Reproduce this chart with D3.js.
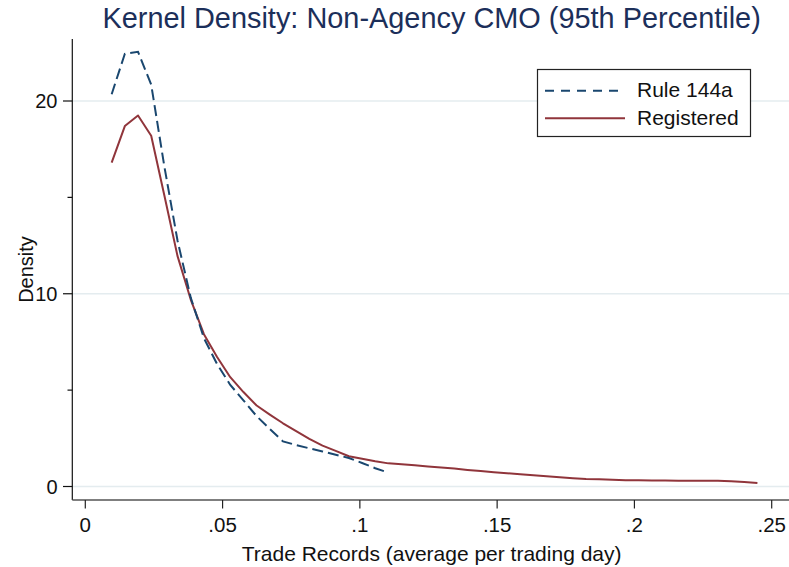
<!DOCTYPE html>
<html>
<head>
<meta charset="utf-8">
<script src="https://cdn.jsdelivr.net/npm/d3@7"></script>
<style>
  html, body { margin: 0; padding: 0; background: #ffffff; }
  svg { display: block; font-family: "Liberation Sans", Arial, sans-serif; }
</style>
</head>
<body>
<svg id="chart" width="789" height="567"></svg>
<script>
// Evaluation points of the kernel density (average trade records per trading day)
const evalPoints = [
  0.0096, 0.0144, 0.0192, 0.0240, 0.0288, 0.0336, 0.0384, 0.0432, 0.0480, 0.0528,
  0.0576, 0.0624, 0.0672, 0.0720, 0.0768, 0.0816, 0.0864, 0.0912, 0.0960, 0.1008,
  0.1056, 0.1104, 0.1152, 0.1200, 0.1248, 0.1296, 0.1344, 0.1392, 0.1440, 0.1488,
  0.1536, 0.1584, 0.1632, 0.1680, 0.1728, 0.1776, 0.1824, 0.1872, 0.1920, 0.1968,
  0.2016, 0.2064, 0.2112, 0.2160, 0.2208, 0.2256, 0.2304, 0.2352, 0.2400, 0.2448
];

// Density estimates, Rule 144a issues (evaluated up to .11)
const rule144a = [
  20.35, 22.45, 22.55, 20.85, 16.6, 12.75, 9.8, 7.7, 6.35, 5.27,
  4.47, 3.65, 2.98, 2.34, 2.15, 1.98, 1.82, 1.65, 1.48, 1.22,
  0.95, 0.72
];

// Density estimates, registered issues
const registered = [
  16.8, 18.7, 19.25, 18.2, 15.1, 11.95, 9.7, 7.9, 6.72, 5.67,
  4.9, 4.2, 3.73, 3.28, 2.87, 2.47, 2.12, 1.85, 1.57, 1.44,
  1.31, 1.2, 1.16, 1.1, 1.04, 0.98, 0.93, 0.86, 0.8, 0.74,
  0.69, 0.64, 0.58, 0.53, 0.48, 0.43, 0.39, 0.37, 0.35, 0.33,
  0.32, 0.31, 0.31, 0.30, 0.30, 0.30, 0.30, 0.27, 0.23, 0.18
];

const xTicks = [0, 0.05, 0.1, 0.15, 0.2, 0.25];
const xTickLabels = ["0", ".05", ".1", ".15", ".2", ".25"];
const yMajorTicks = [0, 10, 20];
const yMinorTicks = [5, 15];

const seriesNames = ["Rule 144a", "Registered"];
const titleText = "Kernel Density: Non-Agency CMO (95th Percentile)";
const xTitle = "Trade Records (average per trading day)";
const yTitle = "Density";

const navy = "#1a476f";
const maroon = "#90353b";
const textColor = "#111";

const svg = d3.select("#chart");

const plotLeft = 72.3, plotRight = 791, plotTop = 39, plotBottom = 500;

const x = d3.scaleLinear().domain([0, 0.25]).range([85.3, 771.7]);
const y = d3.scaleLinear().domain([0, 20]).range([486.5, 101]);

// Gridlines at the labelled density values
svg.append("g")
  .selectAll("line")
  .data(yMajorTicks)
  .join("line")
  .attr("x1", plotLeft).attr("x2", plotRight)
  .attr("y1", d => y(d)).attr("y2", d => y(d))
  .attr("stroke", "#e4ecef")
  .attr("stroke-width", 1.6);

// Density curves
const line = d3.line()
  .x(d => x(d[0]))
  .y(d => y(d[1]));

const regData = evalPoints.map((v, i) => [v, registered[i]]);
const ruleData = rule144a.map((d, i) => [evalPoints[i], d]);

svg.append("path")
  .datum(regData)
  .attr("d", line)
  .attr("fill", "none")
  .attr("stroke", maroon)
  .attr("stroke-width", 2)
  .attr("stroke-linejoin", "round");

svg.append("path")
  .datum(ruleData)
  .attr("d", line)
  .attr("fill", "none")
  .attr("stroke", navy)
  .attr("stroke-width", 2)
  .attr("stroke-dasharray", "11,5");

// Y axis
const yAxis = svg.append("g");
yAxis.append("line")
  .attr("x1", plotLeft).attr("x2", plotLeft)
  .attr("y1", plotTop).attr("y2", plotBottom)
  .attr("stroke", "#111").attr("stroke-width", 1.2);

yAxis.selectAll("line.major")
  .data(yMajorTicks)
  .join("line")
  .attr("class", "major")
  .attr("x1", 63).attr("x2", plotLeft)
  .attr("y1", d => y(d)).attr("y2", d => y(d))
  .attr("stroke", "#111").attr("stroke-width", 1.2);

yAxis.selectAll("line.minor")
  .data(yMinorTicks)
  .join("line")
  .attr("class", "minor")
  .attr("x1", 67.5).attr("x2", plotLeft)
  .attr("y1", d => y(d)).attr("y2", d => y(d))
  .attr("stroke", "#111").attr("stroke-width", 1.2);

yAxis.selectAll("text")
  .data(yMajorTicks)
  .join("text")
  .attr("x", 57.5)
  .attr("y", d => y(d))
  .attr("dy", "0.36em")
  .attr("text-anchor", "end")
  .attr("font-size", 20)
  .attr("fill", textColor)
  .text(d => d);

svg.append("text")
  .attr("transform", `translate(32.5, ${(plotTop + plotBottom) / 2}) rotate(-90)`)
  .attr("text-anchor", "middle")
  .attr("font-size", 20)
  .attr("fill", textColor)
  .text(yTitle);

// X axis
const xAxis = svg.append("g");
xAxis.append("line")
  .attr("x1", plotLeft).attr("x2", plotRight)
  .attr("y1", plotBottom).attr("y2", plotBottom)
  .attr("stroke", "#555").attr("stroke-width", 1.4);

xAxis.selectAll("line.tick")
  .data(xTicks)
  .join("line")
  .attr("class", "tick")
  .attr("x1", d => x(d)).attr("x2", d => x(d))
  .attr("y1", plotBottom).attr("y2", 508.5)
  .attr("stroke", "#222").attr("stroke-width", 1.2);

xAxis.selectAll("text")
  .data(xTicks)
  .join("text")
  .attr("x", d => x(d))
  .attr("y", 531.8)
  .attr("text-anchor", "middle")
  .attr("font-size", 20.5)
  .attr("fill", textColor)
  .text((d, i) => xTickLabels[i]);

svg.append("text")
  .attr("x", (plotLeft + plotRight) / 2)
  .attr("y", 560.5)
  .attr("text-anchor", "middle")
  .attr("font-size", 21)
  .attr("fill", textColor)
  .text(xTitle);

// Title
svg.append("text")
  .attr("x", (plotLeft + plotRight) / 2)
  .attr("y", 28.3)
  .attr("text-anchor", "middle")
  .attr("font-size", 28.9)
  .attr("fill", "#1c2f5a")
  .text(titleText);

// Legend
const legend = svg.append("g");
legend.append("rect")
  .attr("x", 537.5).attr("y", 69.5)
  .attr("width", 213).attr("height", 67)
  .attr("fill", "#ffffff")
  .attr("stroke", "#222")
  .attr("stroke-width", 1.2);

const legendRows = [
  { name: seriesNames[0], color: navy, dash: "9,7", ly: 90.7, ty: 96.5 },
  { name: seriesNames[1], color: maroon, dash: null, ly: 118.3, ty: 124.5 }
];

legendRows.forEach(r => {
  legend.append("line")
    .attr("x1", 545).attr("x2", 625)
    .attr("y1", r.ly).attr("y2", r.ly)
    .attr("stroke", r.color)
    .attr("stroke-width", 2)
    .attr("stroke-dasharray", r.dash);
  legend.append("text")
    .attr("x", 637).attr("y", r.ty)
    .attr("font-size", 21)
    .attr("fill", textColor)
    .text(r.name);
});
</script>
</body>
</html>
